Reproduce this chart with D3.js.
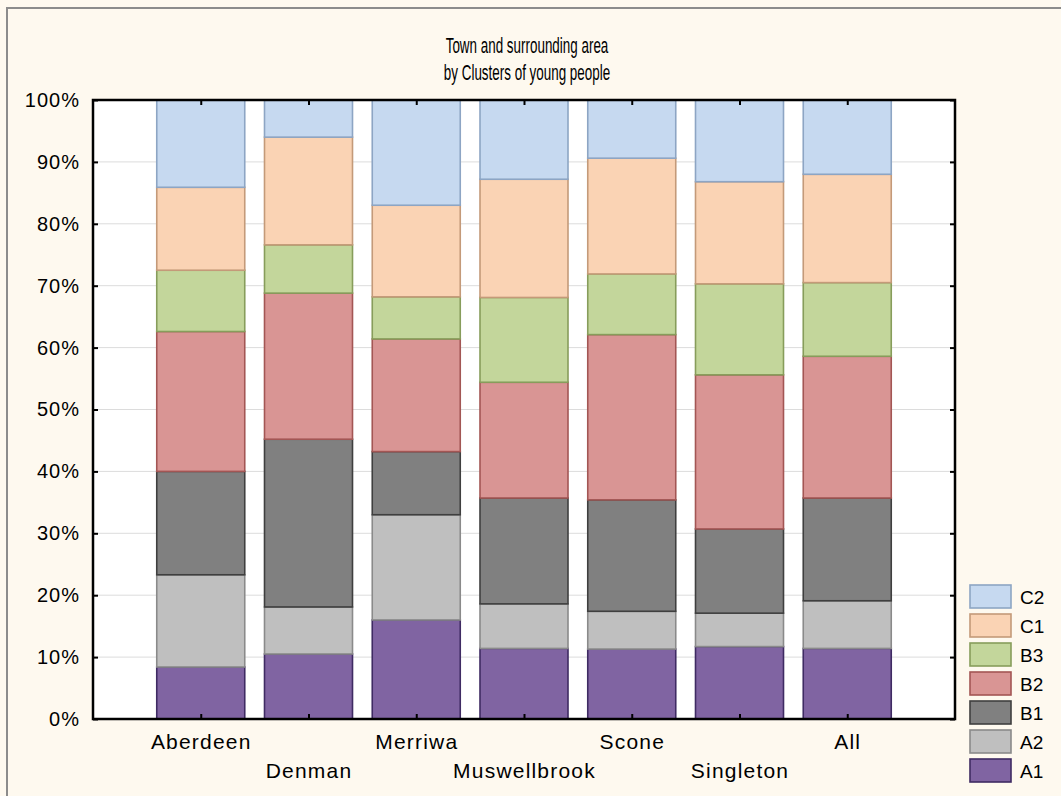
<!DOCTYPE html>
<html>
<head>
<meta charset="utf-8">
<script src="https://cdn.jsdelivr.net/npm/d3@7"></script>
<style>
  html, body { margin: 0; padding: 0; background: #FEF9EF; }
  svg { display: block; }
</style>
</head>
<body>
<svg id="chart" width="1061" height="796"></svg>
<script>
// ---- data ----
const categories = ["Aberdeen", "Denman", "Merriwa", "Muswellbrook", "Scone", "Singleton", "All"];
const seriesNames = ["A1", "A2", "B1", "B2", "B3", "C1", "C2"];
const A1 = [8.4, 10.5, 16.0, 11.4, 11.3, 11.7, 11.4];
const A2 = [14.9, 7.6, 17.0, 7.2, 6.1, 5.4, 7.7];
const B1 = [16.7, 27.1, 10.2, 17.1, 18.0, 13.6, 16.6];
const B2 = [22.6, 23.6, 18.2, 18.7, 26.7, 24.9, 22.9];
const B3 = [9.9, 7.8, 6.8, 13.7, 9.8, 14.7, 11.9];
const C1 = [13.4, 17.4, 14.8, 19.1, 18.7, 16.5, 17.5];
const C2 = [14.1, 6.0, 17.0, 12.8, 9.4, 13.2, 12.0];
const yTicks = [0, 10, 20, 30, 40, 50, 60, 70, 80, 90, 100];
const titleLines = ["Town and surrounding area", "by Clusters of young people"];

const seriesValues = { A1, A2, B1, B2, B3, C1, C2 };
const fills   = { A1: "#8064A2", A2: "#BFBFBF", B1: "#808080", B2: "#D99594", B3: "#C3D69B", C1: "#FAD3B4", C2: "#C6D9F0" };
const strokes = { A1: "#3F2B63", A2: "#8A8A8A", B1: "#3F3F3F", B2: "#A35654", B3: "#879D5B", C1: "#C49A79", C2: "#8DA5C4" };

// ---- layout ----
const svg = d3.select("#chart");
const L = 93, R = 955, T = 100, B = 719;
const font = "'Liberation Sans', Arial, sans-serif";

svg.append("rect").attr("x", 0).attr("y", 0).attr("width", 1061).attr("height", 796).attr("fill", "#FEF9EF");
svg.append("rect").attr("x", 7).attr("y", 8).attr("width", 1100).attr("height", 850)
  .attr("fill", "none").attr("stroke", "#8C8C8C").attr("stroke-width", 2);

const x = d3.scalePoint().domain(categories).range([L, R]).padding(1);
const y = d3.scaleLinear().domain([0, 100]).range([B, T]);
const barW = 88;

// plot background
svg.append("rect").attr("x", L).attr("y", T).attr("width", R - L).attr("height", B - T).attr("fill", "#FFFFFF");

// gridlines
svg.append("g").selectAll("line").data(yTicks.filter(d => d > 0 && d < 100)).join("line")
  .attr("x1", L).attr("x2", R).attr("y1", d => y(d)).attr("y2", d => y(d))
  .attr("stroke", "#DCDCDC").attr("stroke-width", 1);

// stacked data
const rows = categories.map((c, i) => {
  const r = { cat: c };
  seriesNames.forEach(s => r[s] = seriesValues[s][i]);
  return r;
});
const stacked = d3.stack().keys(seriesNames)(rows);

const gBars = svg.append("g");
stacked.forEach(layer => {
  gBars.append("g").selectAll("rect").data(layer).join("rect")
    .attr("x", d => x(d.data.cat) - barW / 2)
    .attr("width", barW)
    .attr("y", d => y(Math.min(d[1], 100)))
    .attr("height", d => y(d[0]) - y(Math.min(d[1], 100)))
    .attr("fill", fills[layer.key])
    .attr("stroke", strokes[layer.key])
    .attr("stroke-width", 1.6);
});

// axes
const yAxisL = d3.axisLeft(y).tickValues(yTicks).tickFormat(d => d + "%").tickSize(-5).tickPadding(13);
const gL = svg.append("g").attr("transform", `translate(${L},0)`).call(yAxisL);
gL.select(".domain").remove();
gL.selectAll("text").attr("font-family", font).attr("font-size", 20).attr("letter-spacing", 1).attr("fill", "#000");
gL.selectAll("line").attr("stroke", "#000").attr("stroke-width", 2);

const yAxisR = d3.axisRight(y).tickValues(yTicks).tickFormat("").tickSize(-5);
const gR = svg.append("g").attr("transform", `translate(${R},0)`).call(yAxisR);
gR.select(".domain").remove();
gR.selectAll("line").attr("stroke", "#000").attr("stroke-width", 2);

const xAxisB = d3.axisBottom(x).tickSize(-5).tickPadding(18);
const gB = svg.append("g").attr("transform", `translate(0,${B})`).call(xAxisB);
gB.select(".domain").remove();
gB.selectAll("line").attr("stroke", "#000").attr("stroke-width", 2);
gB.selectAll("text").attr("font-family", font).attr("font-size", 21).attr("letter-spacing", 1.2).attr("fill", "#000")
  .attr("y", (d, i) => (i % 2 === 0 ? 15 : 44)).attr("dy", "0.71em");

const xAxisT = d3.axisTop(x).tickSize(-5).tickFormat("");
const gT = svg.append("g").attr("transform", `translate(0,${T})`).call(xAxisT);
gT.select(".domain").remove();
gT.selectAll("line").attr("stroke", "#000").attr("stroke-width", 2);

// frame
svg.append("rect").attr("x", L).attr("y", T).attr("width", R - L).attr("height", B - T)
  .attr("fill", "none").attr("stroke", "#000").attr("stroke-width", 2.5);

// title (condensed face)
svg.append("g").selectAll("text").data(titleLines).join("text")
  .attr("transform", (d, i) => `translate(527,${53 + i * 27}) scale(0.61,1)`)
  .attr("text-anchor", "middle")
  .attr("font-family", font).attr("font-size", 22).attr("fill", "#000")
  .text(d => d);

// legend
const legendKeys = seriesNames.slice().reverse();
const lg = svg.append("g").selectAll("g").data(legendKeys).join("g")
  .attr("transform", (d, i) => `translate(970,${585 + i * 29})`);
lg.append("rect").attr("width", 41).attr("height", 23)
  .attr("fill", d => fills[d]).attr("stroke", d => strokes[d]).attr("stroke-width", 1.6);
lg.append("text").attr("x", 50).attr("y", 12).attr("dy", "0.36em")
  .attr("font-family", font).attr("font-size", 19).attr("fill", "#000")
  .text(d => d);
</script>
</body>
</html>
